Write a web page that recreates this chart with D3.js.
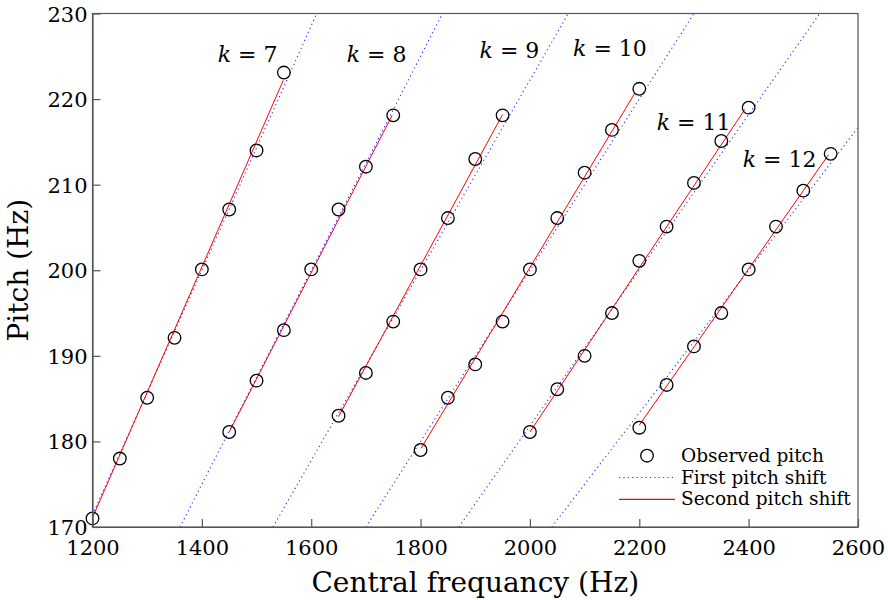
<!DOCTYPE html>
<html>
<head>
<meta charset="utf-8">
<script src="https://cdn.jsdelivr.net/npm/d3@7"></script>
<style>
  body { margin: 0; background: #fff; }
  svg { display: block; }
  text { font-family: "DejaVu Serif", serif; fill: #000; }
</style>
</head>
<body>
<svg id="chart" width="888" height="600"></svg>
<script>
// ---- data ----
const harmonicK = [7, 8, 9, 10, 11, 12];

const observedFreq = [
  [1200, 1250, 1300, 1350, 1400, 1450, 1500, 1550],
  [1450, 1500, 1550, 1600, 1650, 1700, 1750],
  [1650, 1700, 1750, 1800, 1850, 1900, 1950],
  [1800, 1850, 1900, 1950, 2000, 2050, 2100, 2150, 2200],
  [2000, 2050, 2100, 2150, 2200, 2250, 2300, 2350, 2400],
  [2200, 2250, 2300, 2350, 2400, 2450, 2500, 2550]
];
const observedPitch = [
  [171.0, 178.0, 185.1, 192.1, 200.1, 207.1, 214.0, 223.1],
  [181.1, 187.1, 193.0, 200.1, 207.1, 212.1, 218.1],
  [183.0, 188.0, 194.0, 200.1, 206.1, 213.0, 218.1],
  [179.0, 185.1, 189.0, 194.0, 200.1, 206.1, 211.4, 216.4, 221.2],
  [181.1, 186.1, 190.0, 195.0, 201.1, 205.1, 210.2, 215.1, 219.0],
  [181.6, 186.6, 191.1, 195.0, 200.1, 205.1, 209.3, 213.6]
];

// first pitch shift: straight dotted lines, endpoints [f, pitch]
const firstShiftStart = [[1190, 170], [1360, 170], [1530, 170], [1700, 170], [1870, 170], [2040, 170]];
const firstShiftEnd   = [[1610, 230], [1840, 230], [2070, 230], [2300, 230], [2530, 230], [2760, 230]];

// second pitch shift: red solid segments, endpoints [f, pitch]
const secondShiftStart = [[1200, 171.1], [1450, 181.1], [1650, 182.9], [1801, 179.2], [2000, 181.1], [2200, 181.9]];
const secondShiftEnd   = [[1549, 222.2], [1748, 218.1], [1950, 218.2], [2192, 220.7], [2393, 218.8], [2546, 213.5]];

// k label anchors [f, pitch]
const kLabelPos = [[1429, 224.3], [1665, 224.3], [1908, 224.8], [2079, 225.0], [2232, 216.4], [2389, 212.1]];

const xTicks = [1200, 1400, 1600, 1800, 2000, 2200, 2400, 2600];
const yTicks = [170, 180, 190, 200, 210, 220, 230];
const legendLabels = ["Observed pitch", "First pitch shift", "Second pitch shift"];

// ---- layout ----
const L = 92.5, R = 858, T = 13.5, B = 527;
const svg = d3.select("#chart");
const x = d3.scaleLinear().domain([1200, 2600]).range([L, R]);
const y = d3.scaleLinear().domain([170, 230]).range([B, T]);
const axisColor = "#555";

svg.append("defs").append("clipPath").attr("id", "plotclip")
  .append("rect").attr("x", L).attr("y", T).attr("width", R - L).attr("height", B - T);

const plot = svg.append("g").attr("clip-path", "url(#plotclip)");
const line = d3.line().x(d => x(d[0])).y(d => y(d[1]));

// blue dotted lines
harmonicK.forEach((k, i) => {
  plot.append("path")
    .attr("d", line([firstShiftStart[i], firstShiftEnd[i]]))
    .attr("fill", "none").attr("stroke", "#2a2aff").attr("stroke-width", 1.1)
    .attr("stroke-dasharray", "1.2,3.2");
});
// red solid lines
harmonicK.forEach((k, i) => {
  plot.append("path")
    .attr("d", line([secondShiftStart[i], secondShiftEnd[i]]))
    .attr("fill", "none").attr("stroke", "#ff0000").attr("stroke-width", 1);
});
// circles
harmonicK.forEach((k, i) => {
  svg.append("g").selectAll("circle")
    .data(observedFreq[i].map((f, j) => [f, observedPitch[i][j]]))
    .join("circle")
    .attr("cx", d => x(d[0])).attr("cy", d => y(d[1])).attr("r", 6.3)
    .attr("fill", "none").attr("stroke", "#000").attr("stroke-width", 1.3);
});

// frame
svg.append("rect").attr("x", L).attr("y", T).attr("width", R - L).attr("height", B - T)
  .attr("fill", "none").attr("stroke", axisColor).attr("stroke-width", 1.2);

// axes
const xAxis = svg.append("g").attr("transform", `translate(0,${B})`)
  .call(d3.axisBottom(x).tickValues(xTicks).tickFormat(d3.format("d"))
    .tickSizeInner(-8).tickSizeOuter(0).tickPadding(9));
const yAxis = svg.append("g").attr("transform", `translate(${L},0)`)
  .call(d3.axisLeft(y).tickValues(yTicks).tickFormat(d3.format("d"))
    .tickSizeInner(-8).tickSizeOuter(0).tickPadding(5));
[xAxis, yAxis].forEach(a => {
  a.select(".domain").attr("stroke", axisColor).attr("stroke-width", 1.2);
  a.selectAll(".tick line").attr("stroke", axisColor).attr("stroke-width", 1.2);
  a.selectAll(".tick text").attr("font-family", "DejaVu Serif").attr("font-size", 21).attr("fill", "#000");
});
xAxis.selectAll(".tick text").attr("dy", "0").attr("y", 28);
yAxis.selectAll(".tick text").attr("dy", "0.36em");

// axis titles
svg.append("text").attr("x", (L + R) / 2).attr("y", 592).attr("text-anchor", "middle")
  .attr("font-size", 28).text("Central frequancy (Hz)");
svg.append("text").attr("transform", `translate(28,${(T + B) / 2}) rotate(-90)`)
  .attr("text-anchor", "middle").attr("font-size", 28).text("Pitch (Hz)");

// k labels
harmonicK.forEach((k, i) => {
  const t = svg.append("text").attr("x", x(kLabelPos[i][0])).attr("y", y(kLabelPos[i][1]))
    .attr("font-size", 22);
  t.append("tspan").attr("font-style", "italic").text("k");
  t.append("tspan").text(" = " + k);
});

// legend
const lg = svg.append("g");
const lx1 = 619, lx2 = 675, tx = 681;
const rowY = [455.7, 477.5, 499.3];
lg.append("circle").attr("cx", 647).attr("cy", rowY[0]).attr("r", 6.3)
  .attr("fill", "none").attr("stroke", "#000").attr("stroke-width", 1.3);
lg.append("line").attr("x1", lx1).attr("x2", lx2).attr("y1", rowY[1]).attr("y2", rowY[1])
  .attr("stroke", "#2a2aff").attr("stroke-width", 1.1).attr("stroke-dasharray", "1.2,3.2");
lg.append("line").attr("x1", lx1).attr("x2", lx2).attr("y1", rowY[2]).attr("y2", rowY[2])
  .attr("stroke", "#ff0000").attr("stroke-width", 1.2);
legendLabels.forEach((s, i) => {
  lg.append("text").attr("x", tx).attr("y", rowY[i] + 6).attr("font-size", 18.5).text(s);
});
</script>
</body>
</html>
